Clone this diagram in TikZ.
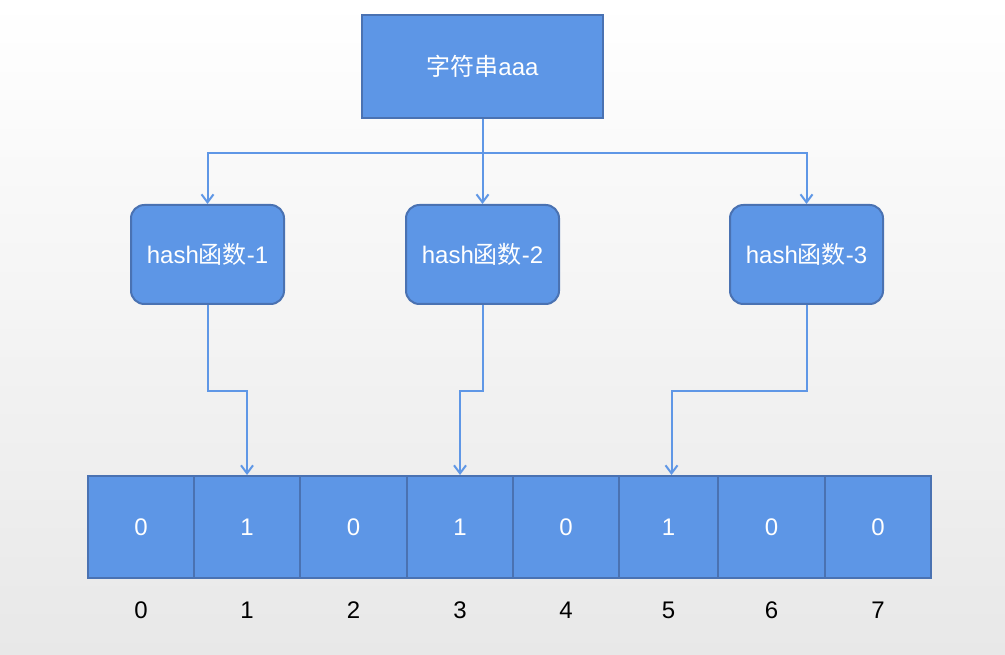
\documentclass[tikz,border=0pt]{standalone}
\usepackage{fontspec}
\setmainfont{Liberation Sans}
\newfontfamily\cjk{Noto Sans CJK SC}
\usepackage{tikz}
\usepackage{xcolor}
\usetikzlibrary{arrows.meta}
\definecolor{boxblue}{HTML}{5D96E6}
\definecolor{edgeblue}{HTML}{4A72B2}
\definecolor{lineblue}{HTML}{5F97E6}

\begin{document}
\begin{tikzpicture}[x=0.75pt, y=-0.75pt,
        box/.style={draw=edgeblue, line width=1.5pt, fill=boxblue, text=white,
            font=\fontsize{18}{21}\selectfont, inner sep=0pt},
        hashbox/.style={box, rounded corners=10pt, minimum width=114.75pt, minimum height=74.25pt},
        link/.style={draw=lineblue, line width=1.5pt, -{Straight Barb[length=6pt,width=9pt]}}]
            \useasboundingbox (0,0) rectangle (1005,655);
            \shade[top color=white, middle color=gray!4, bottom color=gray!18] (0,0) rectangle (1005,655);
            % source string
            \node[box, minimum width=180.75pt, minimum height=77.25pt] (src) at (482.5,66.5) {{\cjk 字符串}aaa};
            % hash functions
            \node[hashbox] (h1) at (207.5,254.5) {hash{\cjk 函数}-1};
            \node[hashbox] (h2) at (482.5,254.5) {hash{\cjk 函数}-2};
            \node[hashbox] (h3) at (806.5,254.5) {hash{\cjk 函数}-3};
            % bit array
            \foreach \xa/\xb/\v [count=\i from 0] in {88/194/0,194/300/1,300/407/0,407/513/1,513/619/0,619/718/1,718/825/0,825/931/0} {
                \pgfmathsetmacro\w{(\xb-\xa)*0.75}
                \node[box, minimum width=\w pt, minimum height=76.5pt] (c\i) at ({(\xa+\xb)/2},527) {\v};
                \node[font=\fontsize{18}{21}\selectfont] (i\i) at (c\i.center |- 0,610) {\i};
            }
            % connectors
            \coordinate (split) at (src.south |- 0,153);
            \draw[link] (src.south) -- (h2.north);
            \draw[link] (split) -| (h1.north);
            \draw[link] (split) -| (h3.north);
            \draw[link] (h1.south) -- ++(0,86) -| (c1.north);
            \draw[link] (h2.south) -- ++(0,86) -| (c3.north);
            \draw[link] (h3.south) -- ++(0,86) -| ([xshift=2.25pt]c5.north);
        \end{tikzpicture}
\end{document}
